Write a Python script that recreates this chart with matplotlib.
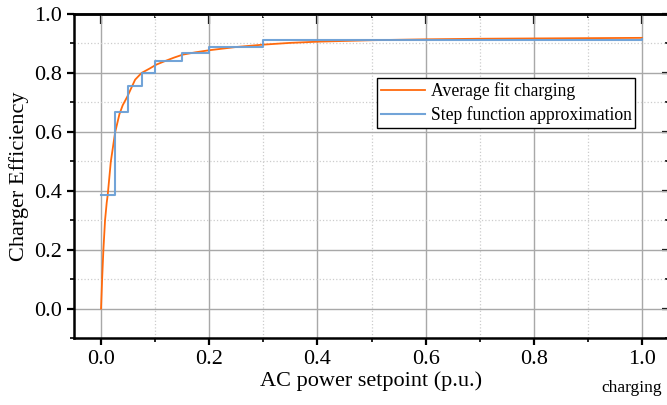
import matplotlib
matplotlib.use('Agg')
import matplotlib.pyplot as plt
from matplotlib.ticker import MultipleLocator

plt.rcParams['font.family'] = ['Liberation Serif', 'DejaVu Serif']

# Average fit curve
fit_x = [0.0, 0.002, 0.0043, 0.0074, 0.0105, 0.0123, 0.018, 0.026, 0.034,
         0.04, 0.0487, 0.063, 0.075, 0.09, 0.102, 0.118, 0.135, 0.151,
         0.175, 0.2, 0.25, 0.3, 0.35, 0.4, 0.5, 0.6, 0.7, 0.8, 0.9, 1.0]
fit_y = [0.0, 0.10, 0.198, 0.30, 0.36, 0.385, 0.498, 0.598, 0.66,
         0.69, 0.72, 0.777, 0.80, 0.815, 0.828, 0.84, 0.852, 0.862,
         0.87, 0.877, 0.888, 0.896, 0.902, 0.906, 0.911, 0.914, 0.916, 0.917, 0.918, 0.919]

# Step function approximation (value holds until next breakpoint)
step_x = [0.0, 0.025, 0.05, 0.075, 0.1, 0.15, 0.2, 0.3, 1.0]
step_y = [0.385, 0.666, 0.757, 0.80, 0.839, 0.867, 0.889, 0.913, 0.914]

fig = plt.figure(figsize=(6.67, 4.05), dpi=100)
ax = fig.add_axes([74 / 667, 67 / 405, 595 / 667, 324 / 405])

ax.plot(fit_x, fit_y, color='#ff6a0d', lw=1.3, label='Average fit charging', zorder=3)
ax.step(step_x, step_y, where='post', color='#6a9fd6', lw=1.5, alpha=0.95,
        label='Step function approximation', zorder=4)

ax.set_xlim(-0.05, 1.05)
ax.set_ylim(-0.1, 1.0)
ax.xaxis.set_major_locator(MultipleLocator(0.2))
ax.xaxis.set_minor_locator(MultipleLocator(0.1))
ax.yaxis.set_major_locator(MultipleLocator(0.2))
ax.yaxis.set_minor_locator(MultipleLocator(0.1))

ax.grid(which='major', color='#a8a8a8', lw=1.0, ls='-')
ax.grid(which='minor', color='#cccccc', lw=0.9, ls=':')
ax.set_axisbelow(True)

for s in ax.spines.values():
    s.set_linewidth(1.8)
    s.set_color('black')

ax.tick_params(which='major', direction='out', length=5, width=1.6, labelsize=16,
               top=False, right=False)
ax.tick_params(which='minor', direction='out', length=3, width=1.2, top=False, right=False)
ax2 = ax.secondary_xaxis('top')
ax2.xaxis.set_major_locator(MultipleLocator(0.2))
ax2.xaxis.set_minor_locator(MultipleLocator(0.1))
ax2.tick_params(which='major', direction='in', length=7, width=1.6, labeltop=False)
ax2.tick_params(which='minor', direction='in', length=3, width=1.2)
ax3 = ax.secondary_yaxis('right')
ax3.yaxis.set_major_locator(MultipleLocator(0.2))
ax3.yaxis.set_minor_locator(MultipleLocator(0.1))
ax3.tick_params(which='major', direction='in', length=5, width=1.6, labelright=False)
ax3.tick_params(which='minor', direction='in', length=3, width=1.2)
for a in (ax2, ax3):
    for s in a.spines.values():
        s.set_linewidth(1.8)

ax.set_xlabel('AC power setpoint (p.u.)', fontsize=16, labelpad=2)
ax.set_ylabel('Charger Efficiency', fontsize=16, labelpad=4)

leg = ax.legend(loc='upper left', bbox_to_anchor=(0.51, 0.8025), fontsize=12.7,
                frameon=True, fancybox=False, edgecolor='black', framealpha=1,
                borderpad=0.22, handlelength=2.5, handletextpad=0.3, labelspacing=0.38,
                borderaxespad=0)
leg.get_frame().set_linewidth(1.0)

fig.text(632 / 667, 1 - 388 / 405, 'charging', fontsize=12.5, ha='center', va='center')

fig.savefig('out.png', dpi=100)
